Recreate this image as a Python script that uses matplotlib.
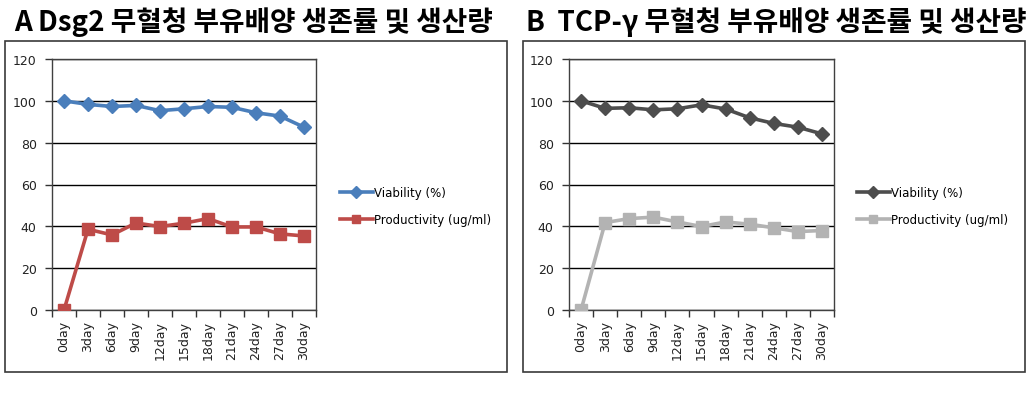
import matplotlib
matplotlib.use("Agg")
import matplotlib.pyplot as plt
from matplotlib.patches import Rectangle
import numpy as np

days = ["0day", "3day", "6day", "9day", "12day", "15day", "18day", "21day", "24day", "27day", "30day"]

viability_a = [100.0, 98.3, 97.3, 97.8, 95.3, 96.2, 97.3, 96.9, 94.3, 92.7, 87.4]
productivity_a = [0.0, 38.6, 35.9, 41.6, 39.9, 41.5, 43.7, 39.7, 39.7, 36.4, 35.4]

viability_b = [100.0, 96.4, 96.7, 95.7, 96.2, 98.1, 96.1, 91.9, 89.2, 87.4, 84.2]
productivity_b = [0.0, 41.8, 43.7, 44.4, 42.1, 39.9, 42.1, 41.0, 39.3, 37.5, 38.0]

title_a = "A Dsg2 무혈청 부유배양 생존률 및 생산량"
title_b = "B  TCP-γ 무혈청 부유배양 생존률 및 생산량"
label_v = "Viability (%)"
label_p = "Productivity (ug/ml)"
yticks = [0, 20, 40, 60, 80, 100, 120]

W, H = 1032, 406
fig = plt.figure(figsize=(W / 100, H / 100), dpi=100)
fig.patch.set_facecolor("white")

def fx(px):
    return px / W

def fy(py):
    return 1 - py / H

panels = [
    dict(box=(5, 42, 507, 373), ax=(52, 60, 316, 311), title=title_a, tx=14,
         v=viability_a, p=productivity_a, cv="#4A7EBB", cp="#BE4B48", leg=(335, 207)),
    dict(box=(523, 42, 1025, 373), ax=(569, 60, 834, 311), title=title_b, tx=526,
         v=viability_b, p=productivity_b, cv="#4D4D4D", cp="#B3B3B3", leg=(852, 207)),
]

for pnl in panels:
    x0, y0, x1, y1 = pnl["box"]
    fig.patches.append(Rectangle((fx(x0), fy(y1)), fx(x1 - x0), (y1 - y0) / H,
                                 transform=fig.transFigure, fill=False,
                                 edgecolor="#3a3a3a", linewidth=1.2))
    fig.text(fx(pnl["tx"]), fy(22), pnl["title"], fontsize=20, fontweight="bold",
             family=["Noto Sans CJK KR", "DejaVu Sans"], va="center", ha="left")

    a0, b0, a1, b1 = pnl["ax"]
    ax = fig.add_axes([fx(a0), fy(b1), fx(a1 - a0), (b1 - b0) / H])
    x = np.arange(len(days))
    ax.plot(x, pnl["v"], color=pnl["cv"], lw=2.6, marker="D", markersize=7.5,
            label=label_v, zorder=3)
    ax.plot(x, pnl["p"], color=pnl["cp"], lw=2.6, marker="s", markersize=8,
            label=label_p, zorder=3)
    ax.set_xlim(-0.5, len(days) - 0.5)
    ax.set_ylim(0, 120)
    ax.set_yticks(yticks)
    ax.set_yticklabels([str(t) for t in yticks], fontsize=9, color="#222222")
    ax.set_xticks(x)
    ax.set_xticklabels(days, rotation=90, fontsize=9, color="#222222")
    ax.set_xticks(np.arange(-0.5, len(days), 1.0), minor=True)
    ax.tick_params(axis="x", which="major", length=0, pad=7)
    ax.tick_params(axis="x", which="minor", length=5, width=1, color="#333333", direction="out")
    ax.tick_params(axis="y", which="major", length=5, width=1, color="#333333", direction="out", pad=6)
    ax.grid(axis="y", color="black", linewidth=1)
    ax.set_axisbelow(True)
    for s in ax.spines.values():
        s.set_color("#404040")
        s.set_linewidth(1)
    lx, ly = pnl["leg"]
    fig.legend(handles=ax.get_lines(), labels=[label_v, label_p],
               loc="center left", bbox_to_anchor=(fx(lx), fy(ly)),
               bbox_transform=fig.transFigure, frameon=False, fontsize=8.5,
               handlelength=2.8, handletextpad=0.1, labelspacing=1.2,
               markerscale=0.75, borderaxespad=0)

fig.savefig("out.png", dpi=100, facecolor="white")
